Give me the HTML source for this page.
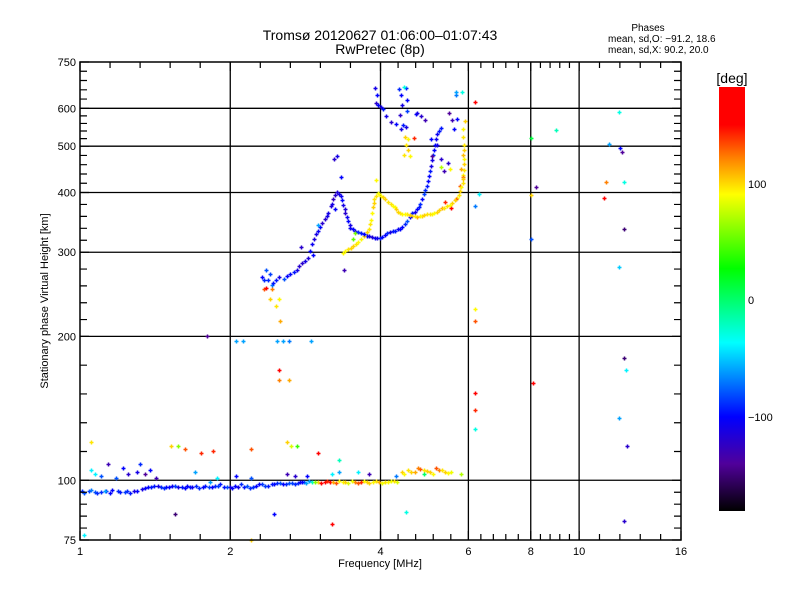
<!DOCTYPE html>
<html><head><meta charset="utf-8"><style>
html,body{margin:0;padding:0;background:#fff;}
svg{display:block;font-family:"Liberation Sans",sans-serif;}
</style></head><body>
<svg id="chart" width="800" height="600" viewBox="0 0 800 600" xmlns="http://www.w3.org/2000/svg">
<rect width="800" height="600" fill="#fff"/>
<text x="380" y="40" text-anchor="middle" font-size="14">Tromsø 20120627 01:06:00–01:07:43</text>
<text x="380" y="54" text-anchor="middle" font-size="14">RwPretec (8p)</text>
<text x="648" y="31" text-anchor="middle" font-size="10">Phases</text>
<text x="608" y="42" font-size="10">mean, sd,O: −91.2, 18.6</text>
<text x="608" y="53" font-size="10">mean, sd,X:  90.2, 20.0</text>
<g id="grid"></g>
<g id="points"></g>
<rect x="80" y="62" width="601" height="478" fill="none" stroke="#000" stroke-width="1.5"/>
<g id="ticks"></g>
<text x="380" y="567" text-anchor="middle" font-size="11">Frequency [MHz]</text>
<text transform="translate(48,301) rotate(-90)" text-anchor="middle" font-size="11">Stationary phase Virtual Height [km]</text>
<defs><linearGradient id="cbg" x1="0" y1="1" x2="0" y2="0">
<stop offset="0" stop-color="#000000"/><stop offset="0.111" stop-color="#50009a"/><stop offset="0.222" stop-color="#0000ff"/><stop offset="0.397" stop-color="#00ffff"/><stop offset="0.572" stop-color="#00ff00"/><stop offset="0.747" stop-color="#ffff00"/><stop offset="0.833" stop-color="#ff8000"/><stop offset="0.911" stop-color="#ff0000"/><stop offset="1" stop-color="#ff0000"/>
</linearGradient></defs>
<rect x="719" y="87" width="26" height="424" fill="url(#cbg)"/>
<text x="732" y="83" text-anchor="middle" font-size="14">[deg]</text>
<text x="748" y="188" font-size="11">100</text>
<text x="748" y="304" font-size="11">0</text>
<text x="748" y="421" font-size="11">−100</text>
</svg>
<script>
const freqs = [1.01,1.04,1.07,1.10,1.13,1.16,1.19,1.23,1.26,1.30,1.33,1.37,1.41,1.45,1.49,1.53,1.57,1.62,1.66,1.71,1.76,1.81,1.86,1.91,1.97,2.02,2.07,2.13,2.19,2.25,2.32,2.38,2.45,2.52,2.59,2.66,2.74,2.81,
2.76,2.84,2.92,3.0,3.09,3.17,3.26,3.36,3.45,3.55,3.65,3.75,3.86,3.97,4.08,4.19,4.31,
4.42,4.55,4.68,4.81,4.95,5.09,5.23,5.38,5.53,
1.05,1.07,1.10,1.14,1.18,1.22,1.25,1.30,1.32,1.35,1.38,1.42,1.70,1.82,1.88,2.05,2.2,2.6,2.7,2.85,3.2,3.3,3.6,3.8,4.3,4.9,5.8,
1.05,1.52,1.57,1.62,1.75,1.85,2.2,2.6,2.65,2.72,3.0,3.3,1.8,2.05,2.12,2.48,2.55,2.62,2.9,2.5,2.5,2.62,2.52,1.55,2.45,3.2,4.5,2.2,1.02,
6.2,6.2,6.2,6.2,6.2,6.2,6.2,6.3,8.0,8.0,8.0,8.1,8.2,9.0,11.5,11.3,11.2,12.0,12.1,12.2,12.3,12.3,12.0,12.3,12.4,12.0,12.5,12.3,
2.34,2.40,2.47,2.56,2.64,2.72,2.79,2.86,2.92,2.97,3.03,3.10,3.14,3.22,3.28,3.33,3.37,3.40,3.45,3.48,3.56,3.65,3.76,3.85,3.94,4.03,4.13,4.23,4.33,4.42,4.53,4.63,4.74,4.81,4.88,4.95,5.0,5.05,5.09,5.14,5.20,5.28,
2.36,2.43,2.77,2.93,3.0,3.2,3.25,3.23,3.28,3.33,3.38,
3.9,3.94,3.92,3.95,4.0,4.04,4.1,4.2,4.29,4.39,
4.35,4.39,4.42,4.37,4.44,4.5,4.52,4.53,4.49,4.47,4.5,4.55,4.55,4.45,4.59,4.66,4.72,
4.74,4.83,4.92,5.05,5.08,5.18,5.28,5.37,5.46,5.62,5.66,5.69,5.48,5.56,4.45,5.66,5.83,
3.37,3.45,3.53,3.61,3.70,3.79,3.83,3.87,3.89,3.95,4.01,4.09,4.19,4.27,4.33,4.42,4.53,4.63,4.74,4.84,4.96,5.08,5.19,5.31,5.43,5.56,5.70,5.78,5.84,5.86,5.89,5.86,5.89,5.84,5.92,
5.38,5.53,5.66,5.78,5.84,5.8,5.28,5.5,3.53,3.56,3.92,2.34,2.43,2.5,2.36,2.4,2.47,
1.02,1.05,1.08,1.12,1.15,1.2,1.24,1.28,1.35,1.39,1.43,1.47,1.51,1.55,1.6,1.64,1.68,1.73,1.78,1.84,1.89,1.94,2.0,2.04,2.1,2.16,2.22,2.28,2.35,2.42,2.48,2.55,2.62,2.7,2.78,2.88,2.96,3.04,3.13,3.22,3.31,3.4,3.5,3.6,3.7,3.8,3.92,4.02,4.14,4.25,4.45,4.6,4.75,4.88,5.02,5.16,5.3,5.45,
2.32,2.38,2.44,2.5,2.6,2.68,2.75,2.83,2.89,2.95,3.0,3.06,3.12,3.18,3.25,3.3,3.35,3.39,3.43,3.47,3.52,3.6,3.7,3.8,3.9,3.99,4.08,4.18,4.28,4.38,4.48,4.58,4.68,4.78,4.85,4.92,4.97,5.02,5.07,5.12,5.17,5.24,
3.4,3.49,3.57,3.65,3.75,3.81,3.85,3.88,3.92,3.98,4.05,4.14,4.23,4.3,4.38,4.48,4.58,4.68,4.79,4.9,5.02,5.13,5.25,5.37,5.5,5.63,5.74,5.81,5.85,5.87,5.88,5.87,5.86];
const heights = [95,95,94.5,94.5,95,95.5,95,94.5,94,95,96,97,97.5,97,97,97.5,97,96.5,97,97.5,97,97,97.5,98,97,96.5,97,97,96.5,97.5,98,97.5,98,98.5,98,98.5,98.5,99,
99,98.5,99,99,99,99,98.5,99,98.5,99,99,99,99,99,99,99.5,99,
104,105,104,105.5,104.5,103,105,104,104,
105,103,102,108,101,106,103,104,108,103,105,101,104,99,101,102,101,103,102,102,103,104,104,103,102,103,103,
120,118,118,116,114,115,116,120,118,118,114,110,200,196,196,196,196,196,196,170,162,162,215,85,85,81,86,75,77,
620,375,228,215,152,140,128,398,520,395,320,160,410,540,505,420,390,590,495,485,420,335,280,180,170,135,118,82,
263,270,263,264,270,276,285,292,312,327,339,352,363,387,401,393,376,362,348,337,332,329,325,323,321,323,329,332,335,338,348,362,369,378,397,413,433,455,480,504,530,547,
276,256,308,296,342,378,369,469,476,430,276,
663,641,616,610,605,597,577,562,556,542,
660,641,610,582,554,663,626,591,549,523,504,517,492,480,476,519,583,
588,577,567,517,477,504,471,443,460,542,639,569,588,567,666,650,648,
299,304,309,315,324,335,351,373,387,399,394,388,378,373,365,361,360,358,356,358,360,361,365,371,374,380,390,402,418,435,458,480,504,542,564,
382,372,388,412,431,447,452,447,319,329,424,251,251,239,252,240,232,
94,95.5,94,95,94,94.5,95,95,96.5,97,97.5,96.5,97,97.5,97,97.5,97,96.5,97.5,97,97.5,97,97,97.5,98,97.5,97,98,97.5,98,98.5,98,98.5,98,99,99.5,99,98.5,99.5,99,99.5,99,99.5,98.5,99.5,98.5,99.5,98.5,99,99.5,103,104,106,105,104,106,105,103.5,
266,262,259,266,268,273,281,288,302,320,333,345,357,375,395,398,385,369,355,342,335,330,327,324,322,322,326,330,333,336,343,355,365,373,388,405,423,444,468,492,517,538,
302,306,312,320,330,343,362,380,393,397,391,383,375,369,363,360,359,357,357,359,360,363,368,372,377,385,396,410,426,446,469,492,523];
const phases = [-90,-85,-80,-90,-95,-100,-90,-85,-95,-100,-110,-100,-95,-90,-100,-105,-110,-100,-95,-90,-100,-85,-90,-95,-80,-100,-110,-95,-90,-100,-85,-95,-100,-80,-90,-85,-90,-80,
-110,-60,-20,100,160,150,130,90,80,120,140,100,90,110,95,85,80,
100,95,110,130,100,90,120,100,85,
-40,-40,-80,-130,-80,-100,-120,-110,-90,-140,-100,-130,-60,-60,-40,-100,-80,-130,-120,-100,-40,-60,-40,-130,-70,0,70,
95,100,60,130,140,140,130,100,80,40,150,-20,-140,-60,-60,-60,-60,-70,-60,150,120,110,110,-150,-100,150,-30,100,-40,
170,-70,90,130,150,140,-30,-40,10,100,-80,160,-140,-20,-60,120,160,-30,-100,-140,-30,-150,-50,-150,-40,-60,-120,-120,
-90,-85,-95,-80,-100,-110,-120,-115,-105,-110,-100,-120,-110,-125,-115,-105,-110,-120,-100,-105,-110,-95,-100,-115,-110,-100,-90,-95,-105,-100,-80,-95,-100,-90,-85,-95,-100,-110,-90,-100,-105,-95,
-80,-70,-120,-100,-60,-110,-100,-120,-110,-100,-130,
-110,-100,-120,-100,-110,-95,-110,-120,-100,-110,
-90,-100,-110,-120,-95,-90,-100,-85,-110,100,95,90,100,95,90,140,-100,
-110,-120,-130,-100,-140,-110,-120,-130,-120,-100,-70,-100,-140,-130,-30,-60,-30,
90,95,100,90,100,95,90,100,95,85,90,100,95,90,100,90,95,100,110,100,95,90,100,110,95,100,90,100,95,90,100,105,95,90,100,
140,160,130,130,120,110,70,90,50,55,90,130,120,90,160,100,95,
-80,-70,-90,-60,-100,-95,-90,-110,-100,-95,-110,-90,-100,-85,-95,-100,-105,-90,-95,-100,-85,-95,-110,-100,-90,-80,-90,-100,-85,-95,-90,-100,-80,-90,-100,-60,60,150,140,110,90,100,85,130,90,100,95,85,90,95,90,100,120,95,100,130,95,90,
-100,-90,-95,-110,-100,-95,-120,-110,-100,-115,-105,-120,-110,-115,-120,-110,-100,-115,-105,-110,-100,-90,-100,-110,-105,-95,-100,-110,-95,-100,-90,-100,-110,-95,-100,-90,-100,-95,-110,-100,-105,-95,
90,100,95,90,100,95,90,100,95,90,100,95,90,100,95,90,100,95,90,100,95,90,100,95,90,100,95,90,100,95,90,100,95];

const X0=80,X1=681,Y0=62,Y1=540;
const fmin=1,fmax=16,hmin=75,hmax=750;
function xs(f){return X0+(X1-X0)*Math.log(f/fmin)/Math.log(fmax/fmin);}
function ys(h){return Y1-(Y1-Y0)*Math.log(h/hmin)/Math.log(hmax/hmin);}
const stops=[[-180,[0,0,0]],[-140,[80,0,154]],[-100,[0,0,255]],[-37,[0,255,255]],[26,[0,255,0]],[89,[255,255,0]],[120,[255,128,0]],[148,[255,0,0]],[180,[255,0,0]]];
function col(p){for(let i=1;i<stops.length;i++){if(p<=stops[i][0]){const a=stops[i-1],b=stops[i];const t=(p-a[0])/(b[0]-a[0]);const c=a[1].map((v,k)=>Math.round(v+(b[1][k]-v)*Math.max(0,t)));return `rgb(${c[0]},${c[1]},${c[2]})`;}}return 'rgb(255,0,0)';}
const NS='http://www.w3.org/2000/svg';
function mk(tag,attrs,parent){const e=document.createElementNS(NS,tag);for(const k in attrs)e.setAttribute(k,attrs[k]);parent.appendChild(e);return e;}

const xMajor=[1,2,4,6,8,10,16];
const yMajor=[75,100,200,300,400,500,600,750];
const xGrid=[2,4,6,8,10];
const yGrid=[100,200,300,400,500,600];
const grid=document.getElementById('grid'),ticks=document.getElementById('ticks'),pts=document.getElementById('points');
xGrid.forEach(v=>{const l=mk('line',{x1:xs(v),x2:xs(v),y1:Y0,y2:Y1,stroke:'#000','stroke-width':1.3},grid);

});
yGrid.forEach(v=>{const l=mk('line',{x1:X0,x2:X1,y1:ys(v),y2:ys(v),stroke:'#000','stroke-width':1.3},grid);

});
let d='';
for(let i=0;i<xMajor.length;i++){const x=xs(xMajor[i]);d+=`M${x} ${Y1}v-9M${x} ${Y0}v9`;
 const t=mk('text',{x:x,y:555,'text-anchor':'middle','font-size':11},ticks);t.textContent=xMajor[i];
 
 
 if(i<xMajor.length-1){const x2=xs(xMajor[i+1]);for(let k=1;k<5;k++){const xm=x+(x2-x)*k/5;d+=`M${xm} ${Y1}v-6M${xm} ${Y0}v6`;}}}
for(let i=0;i<yMajor.length;i++){const y=ys(yMajor[i]);d+=`M${X0} ${y}h9M${X1} ${y}h-9`;
 const t=mk('text',{x:76,y:y+4,'text-anchor':'end','font-size':11},ticks);t.textContent=yMajor[i];
 
 
 if(i<yMajor.length-1){const y2=ys(yMajor[i+1]);for(let k=1;k<5;k++){const ym=y+(y2-y)*k/5;d+=`M${X0} ${ym}h7M${X1} ${ym}h-7`;}}}
const tp=mk('path',{d:d,stroke:'#000','stroke-width':1.2,fill:'none'},ticks);


for(let i=0;i<freqs.length;i++){const x=Math.round(xs(freqs[i]))+0.5,y=Math.round(ys(heights[i]))+0.5;
 const p=mk('path',{d:`M${x-2} ${y}h4M${x} ${y-2}v4`,stroke:col(phases[i]),'stroke-width':1.5,fill:'none'},pts);
 
 }
</script>
</body></html>
